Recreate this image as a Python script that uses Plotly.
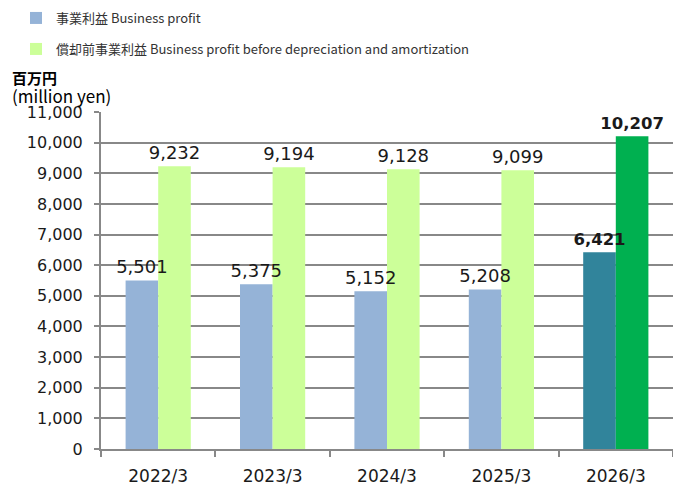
import plotly.graph_objects as go

categories = ["2022/3", "2023/3", "2024/3", "2025/3", "2026/3"]
business_profit = [5501, 5375, 5152, 5208, 6421]
profit_before_da = [9232, 9194, 9128, 9099, 10207]
y_ticks = list(range(0, 11001, 1000))

bp_colors = ["#95B3D7"] * 4 + ["#31849B"]
da_colors = ["#CCFF99"] * 4 + ["#00B050"]

def labels(vals):
    out = [f"{v:,}" for v in vals]
    out[-1] = f"<b>{out[-1]}</b>"
    return out

W, H = 673, 486
LAB_FONT = dict(family="DejaVu Sans", size=[18, 18, 18, 18, 16.5], color="#1a1a1a")

fig = go.Figure()
fig.add_trace(go.Bar(
    x=categories, y=business_profit, name="事業利益 Business profit",
    marker=dict(color=bp_colors, line=dict(width=0)),
    offsetgroup="a", legend="legend",
))
fig.add_trace(go.Bar(
    x=categories, y=profit_before_da,
    name="償却前事業利益 Business profit before depreciation and amortization",
    marker=dict(color=da_colors, line=dict(width=0)),
    offsetgroup="b", legend="legend2",
))
# value labels drawn on top of all bars
for vals, grp in ((business_profit, "a"), (profit_before_da, "b")):
    fig.add_trace(go.Bar(
        x=categories, y=vals, offsetgroup=grp, showlegend=False,
        marker=dict(color="rgba(0,0,0,0)", line=dict(width=0)),
        text=labels(vals), textposition="outside", textfont=LAB_FONT,
        constraintext="none", cliponaxis=False, hoverinfo="skip",
    ))

leg_font = dict(family="Noto Sans CJK JP", size=13, color="#333333")
fig.update_layout(
    width=W, height=H,
    margin=dict(l=101, r=0, t=112, b=37, autoexpand=False),
    plot_bgcolor="white", paper_bgcolor="white",
    barmode="group", bargap=0.43, bargroupgap=0,
    legend=dict(x=16 / W, y=1 - 18 / H, xref="container", yref="container",
                xanchor="left", yanchor="middle", font=leg_font,
                bgcolor="rgba(0,0,0,0)", itemwidth=30),
    legend2=dict(x=16 / W, y=1 - 49 / H, xref="container", yref="container",
                 xanchor="left", yanchor="middle", font=leg_font,
                 bgcolor="rgba(0,0,0,0)", itemwidth=30),
    showlegend=True,
)
fig.update_xaxes(
    tickfont=dict(family="DejaVu Sans", size=17, color="#1a1a1a"),
    showline=True, linecolor="#888888", linewidth=2,
    ticks="outside", tickson="boundaries", ticklen=6, tickcolor="#888888", tickwidth=2,
    showgrid=False, automargin=False, ticklabelstandoff=11,
)
fig.update_yaxes(
    range=[0, 11000], tickvals=y_ticks, tickformat=",",
    tickfont=dict(family="DejaVu Sans", size=16, color="#1a1a1a"),
    showline=True, linecolor="#888888", linewidth=2,
    ticks="outside", ticklen=5, tickcolor="#888888", tickwidth=2,
    showgrid=True, gridcolor="#888888", gridwidth=2, zeroline=False,
    automargin=False, ticklabelstandoff=8,
)
fig.add_annotation(text="<b>百万円</b>", xref="paper", yref="paper",
                   x=(10 - 101) / 572, y=(449 - 77) / 337, xanchor="left", yanchor="middle",
                   showarrow=False, font=dict(family="Noto Sans CJK JP", size=15, color="#000000"))
fig.add_annotation(text="(million yen)", xref="paper", yref="paper",
                   x=(10 - 101) / 572, y=(449 - 96) / 337, xanchor="left", yanchor="middle",
                   showarrow=False, font=dict(family="Noto Sans CJK JP", size=17, color="#000000"))

fig.write_html("out.html", config={"displayModeBar": False},
               post_script="document.body.style.margin='0';")
